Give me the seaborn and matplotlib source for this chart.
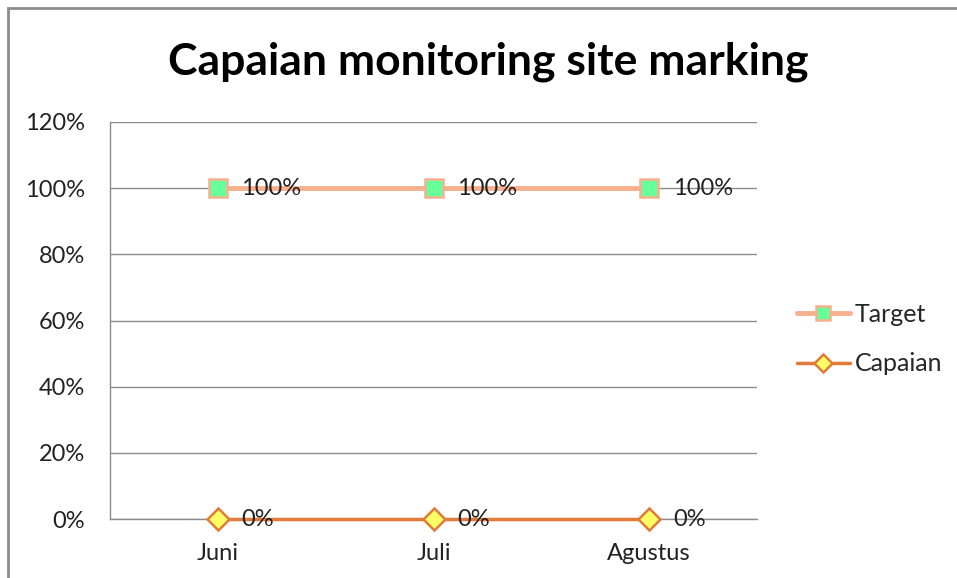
import matplotlib
matplotlib.use("Agg")
import matplotlib.pyplot as plt
import matplotlib.patches as mpatches
import seaborn as sns
import pandas as pd

# data
bulan = ['Juni', 'Juli', 'Agustus']
target = [1.0, 1.0, 1.0]
capaian = [0.0, 0.0, 0.0]
yticks = [0, 0.2, 0.4, 0.6, 0.8, 1.0, 1.2]

sns.set_style('white')
plt.rcParams['font.family'] = ['Lato', 'DejaVu Sans']

fig = plt.figure(figsize=(9.57, 5.78), dpi=100)
ax = fig.add_axes([110/957, 1 - 519/578, 647/957, 397/578])

# bingkai chart (ala Excel)
frame = mpatches.Rectangle((8/957, -0.1), 1.2, 1 - 8/578 + 0.1, transform=fig.transFigure,
                           fill=False, edgecolor='#8c8c8c', lw=2, zorder=0)
fig.patches.append(frame)

df = pd.DataFrame({'bulan': bulan, 'Target': target, 'Capaian': capaian})

sns.lineplot(data=df, x='bulan', y='Target', ax=ax, color='#F7B08E', lw=3.5,
             marker='s', markersize=13, markerfacecolor='#66FF99',
             markeredgecolor='#F7B08E', markeredgewidth=1.8, label='Target',
             zorder=4, clip_on=False)
sns.lineplot(data=df, x='bulan', y='Capaian', ax=ax, color='#E07B39', lw=2.5,
             marker='D', markersize=11, markerfacecolor='#FFFF66',
             markeredgecolor='#E07B39', markeredgewidth=1.8, label='Capaian',
             zorder=4, clip_on=False)

# label data
for i, v in enumerate(target):
    ax.annotate(f'{v:.0%}', (i, v), xytext=(17, 0), textcoords='offset points',
                va='center', ha='left', fontsize=17, color='#222222', zorder=5)
for i, v in enumerate(capaian):
    ax.annotate(f'{v:.0%}', (i, v), xytext=(17, 0), textcoords='offset points',
                va='center', ha='left', fontsize=17, color='#222222', zorder=5,
                annotation_clip=False)

ax.set_xlim(-0.5, 2.5)
ax.set_ylim(0, 1.2)
ax.set_yticks(yticks)
ax.set_yticklabels([f'{t:.0%}' for t in yticks])
ax.yaxis.grid(True, color='#8c8c8c', lw=1)
ax.set_axisbelow(True)
ax.set_xlabel('')
ax.set_ylabel('')
ax.tick_params(axis='both', length=0, labelsize=17, colors='#222222')
ax.tick_params(axis='y', pad=18)
ax.tick_params(axis='x', pad=17)
for s in ['top', 'right']:
    ax.spines[s].set_visible(False)
for s in ['left', 'bottom']:
    ax.spines[s].set_color('#8c8c8c')
    ax.spines[s].set_linewidth(1)

fig.suptitle('Capaian monitoring site marking', x=488/957, y=1 - 62/578, va='center',
             fontsize=32, fontweight='bold', color='black')

leg = ax.legend(loc='center left', bbox_to_anchor=(1.062, 0.453), frameon=False,
                fontsize=18, handlelength=2.1, handletextpad=0.2, labelspacing=1.05,
                borderaxespad=0, borderpad=0, markerscale=0.8)

fig.savefig('out.png', dpi=100)
